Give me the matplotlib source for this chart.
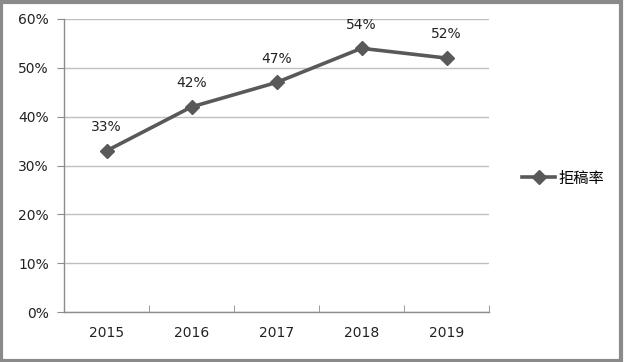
import matplotlib
matplotlib.use("Agg")
import matplotlib.pyplot as plt
from matplotlib.patches import Rectangle
from matplotlib.ticker import MultipleLocator, FuncFormatter

years = ["2015", "2016", "2017", "2018", "2019"]
rates = [33, 42, 47, 54, 52]
series_name = "拒稿率"

plt.rcParams['font.family'] = ['DejaVu Sans', 'Noto Sans CJK SC']

fig = plt.figure(figsize=(6.24, 3.62), dpi=100)
ax = fig.add_axes([64/624, 50/362, (489-64)/624, (312-19)/362])

x = list(range(len(years)))
line_color = "#595959"
ax.plot(x, rates, color=line_color, lw=2.6, marker="D", ms=7.5,
        mfc=line_color, mec=line_color, label=series_name, zorder=3)
for xi, v in zip(x, rates):
    ax.annotate(f"{v}%", (xi, v), xytext=(0, 12), textcoords="offset points",
                ha="center", va="bottom", fontsize=10, color="#222222")

ax.set_xlim(-0.5, len(years) - 0.5)
ax.set_ylim(0, 60)
ax.yaxis.set_major_locator(MultipleLocator(10))
ax.yaxis.set_major_formatter(FuncFormatter(lambda v, p: f"{int(v)}%"))
ax.set_xticks(x)
ax.set_xticklabels(years)
ax.set_xticks([i - 0.5 for i in range(len(years) + 1)], minor=True)
ax.tick_params(axis="x", which="major", length=0, pad=10, labelsize=10, labelcolor="#222222")
ax.tick_params(axis="x", which="minor", length=5, direction="in", color="#8c8c8c")
ax.tick_params(axis="y", length=5, direction="out", color="#8c8c8c", labelsize=10,
               labelcolor="#222222", pad=6)
ax.grid(axis="y", color="#bfbfbf", lw=1)
ax.set_axisbelow(True)
for s in ["top", "right"]:
    ax.spines[s].set_visible(False)
for s in ["left", "bottom"]:
    ax.spines[s].set_color("#8c8c8c")
    ax.spines[s].set_linewidth(1)

fig.legend(loc="center left", bbox_to_anchor=(508/624, 1 - 178/362), frameon=False,
           fontsize=11, handlelength=2.2, handletextpad=0.2,
           prop={'family': ['Noto Sans CJK SC'], 'size': 11})

fig.patches.append(Rectangle((0.002, 0.004), 0.993, 0.99, transform=fig.transFigure,
                             fill=False, ec="#8a8a8a", lw=3))
fig.savefig("out.png", dpi=100, facecolor="white")
